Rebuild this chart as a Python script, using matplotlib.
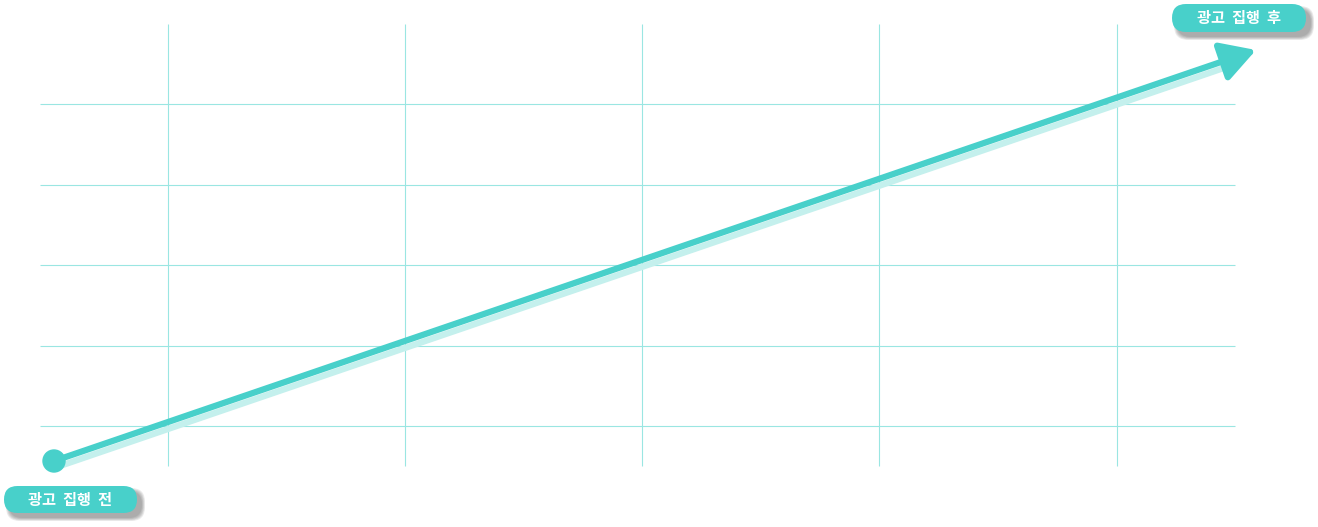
import matplotlib.pyplot as plt
from matplotlib.patches import FancyBboxPatch, Circle

plt.rcParams['font.family'] = ['Noto Sans CJK KR', 'DejaVu Sans']

# ── Data (canvas units, y grows downward) ───────────────────
grid_x = [168, 405, 642, 879, 1117]
grid_y = [104, 185, 265, 346, 426]
grid_xspan = (40, 1235)
grid_yspan = (24, 466)

trend_x = [54, 1256]      # before -> after
trend_y = [461, 50]

labels = ["광고 집행 전", "광고 집행 후"]
label_boxes = [(4, 486, 133, 27), (1172, 4, 134, 28)]   # x, y, w, h

TEAL = "#48D0CA"
GRID = "#9AE6E2"
SHADOW_LINE = "#C4F0ED"

fig = plt.figure(figsize=(13.18, 5.27), dpi=100)
ax = fig.add_axes([0, 0, 1, 1])
ax.set_xlim(0, 1318)
ax.set_ylim(527, 0)
ax.axis("off")

# ── Grid ────────────────────────────────────────────────────
ax.hlines(grid_y, *grid_xspan, color=GRID, lw=0.8, zorder=1)
ax.vlines(grid_x, *grid_yspan, color=GRID, lw=0.8, zorder=1)

# ── Trend arrow with light shadow ───────────────────────────
slope = (trend_y[1] - trend_y[0]) / (trend_x[1] - trend_x[0])
sh_end = 1232
ax.plot([trend_x[0], sh_end], [trend_y[0] + 7, trend_y[0] + slope * (sh_end - trend_x[0]) + 7],
        color=SHADOW_LINE, lw=4.5, solid_capstyle="butt", zorder=2)
ax.annotate("", xy=(trend_x[1], trend_y[1]), xytext=(trend_x[0], trend_y[0]),
            arrowprops=dict(arrowstyle="-|>,head_length=2.1,head_width=1.2",
                            color=TEAL, lw=4.5, shrinkA=0, shrinkB=0),
            zorder=3)
ax.add_patch(Circle((trend_x[0], trend_y[0]), 11, color=TEAL, zorder=4))

# ── Label pills with soft drop shadow ───────────────────────
for text, (bx, by, bw, bh) in zip(labels, label_boxes):
    for i in range(6):
        pad = 3.0 - i * 0.6
        ax.add_patch(FancyBboxPatch((bx + 5, by + 5), bw, bh,
                                    boxstyle=f"round,pad={pad},rounding_size={bh/2}",
                                    fc="#444444", ec="none", alpha=0.09, zorder=5))
    ax.add_patch(FancyBboxPatch((bx, by), bw, bh,
                                boxstyle=f"round,pad=0,rounding_size={bh/2}",
                                fc=TEAL, ec="none", zorder=6))
    ax.text(bx + bw / 2, by + bh / 2 + 0.5, text.replace(" ", "  "), color="white",
            fontsize=11, fontweight="bold", ha="center", va="center", zorder=7)

fig.savefig("out.png", dpi=100)
